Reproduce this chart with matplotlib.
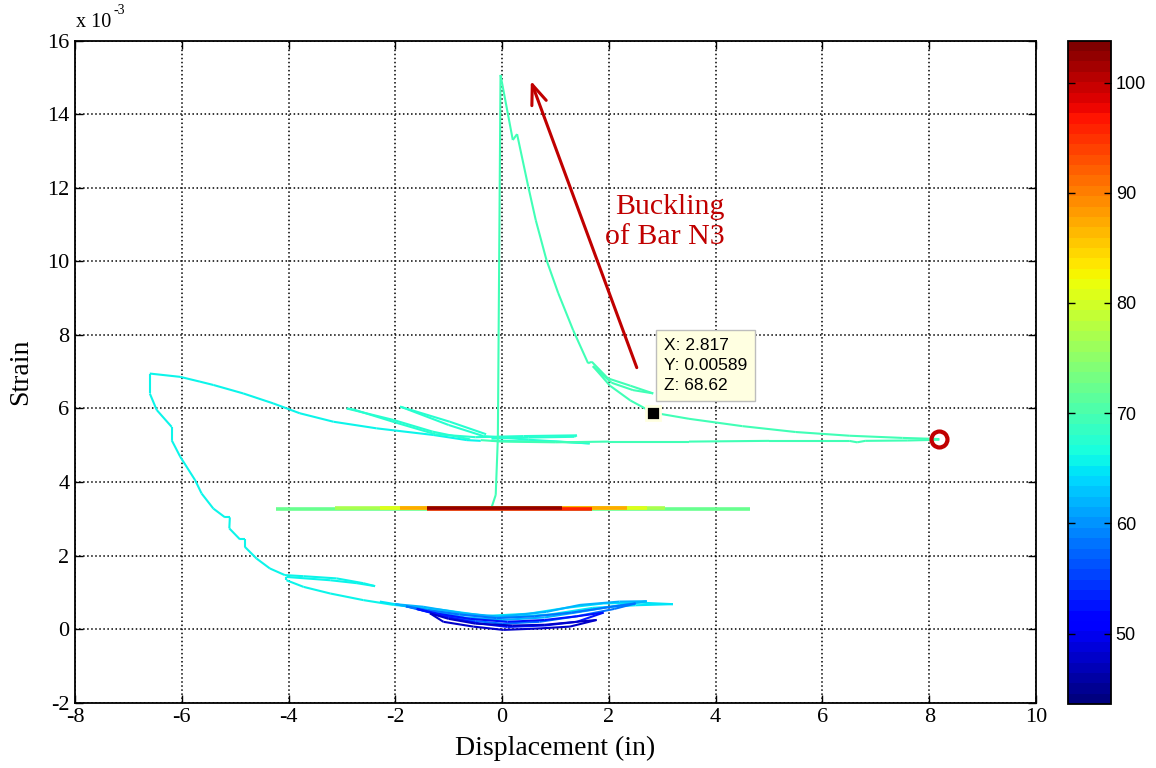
import numpy as np
import matplotlib
matplotlib.use('Agg')
import matplotlib.pyplot as plt
from matplotlib.collections import LineCollection
from matplotlib.colors import Normalize

plt.rcParams['axes.unicode_minus'] = False

# strain values are in units of 1e-3
# main trace: vertical jump, buckling drop, run out to the circle
peak_x = [-0.20, -0.12, -0.08, -0.03, 0.20, 0.28, 0.49, 0.63, 0.83, 1.05, 1.33, 1.61, 1.68,
          1.98, 2.40, 2.83, 2.45, 2.05, 1.70, 2.02, 2.40, 2.82, 3.50, 4.50, 5.50, 6.50, 7.50, 8.19]
peak_y = [3.30, 3.65, 5.20, 15.07, 13.30, 13.46, 12.03, 11.12, 10.04, 9.14, 8.13, 7.23, 7.27,
          6.82, 6.62, 6.41, 6.50, 6.70, 7.15, 6.62, 6.22, 5.89, 5.72, 5.52, 5.36, 5.26, 5.20, 5.17]
peak_z = 69.5

ret_x = [8.19, 7.60, 6.80, 6.65, 6.50, 5.00, 3.50, 2.00, 1.00, 0.00, -0.40]
ret_y = [5.15, 5.13, 5.12, 5.08, 5.12, 5.12, 5.10, 5.10, 5.08, 5.10, 5.14]
ret_z = 69.0

# big loop on the left going down into the bowl
left_x = [-0.40, -0.66, -1.29, -2.35, -3.16, -3.79, -4.29, -4.85, -5.41, -5.66, -6.03, -6.60,
          -6.60, -6.47, -6.19, -6.19, -6.03, -5.75, -5.63, -5.41, -5.19, -5.10, -5.11, -4.91,
          -4.82, -4.82, -4.60, -4.35, -4.07, -3.72, -3.10, -2.60, -2.38, -2.72, -3.22, -4.04,
          -4.04, -3.72, -3.22, -2.60, -2.04, -1.66]
left_y = [5.12, 5.14, 5.28, 5.46, 5.64, 5.87, 6.14, 6.41, 6.64, 6.73, 6.86, 6.95,
          6.41, 5.96, 5.50, 5.14, 4.69, 4.05, 3.69, 3.28, 3.04, 3.04, 2.74, 2.44,
          2.44, 2.24, 1.92, 1.65, 1.47, 1.44, 1.38, 1.25, 1.17, 1.25, 1.33, 1.42,
          1.33, 1.15, 0.97, 0.79, 0.66, 0.61]
left_z = 66.0

mid1_x = [-0.60, -1.30, -2.04, -2.91, -2.80, -2.00, -1.25, -0.50, 0.40, 1.40, 1.35, 0.50, -0.20]
mid1_y = [5.16, 5.37, 5.69, 6.00, 5.98, 5.62, 5.30, 5.22, 5.25, 5.27, 5.23, 5.21, 5.18]
mid1_z = 67.5

mid2_x = [-0.30, -0.98, -1.91, -1.85, -1.00, -0.35, 0.50, 1.64, 1.00, -0.20]
mid2_y = [5.30, 5.64, 6.05, 6.02, 5.55, 5.25, 5.15, 5.05, 5.10, 5.12]
mid2_z = 68.0

# small cycles near zero displacement
bowl1_x = [-1.35, -1.10, -0.54, 0.02, 0.71, 1.27, 1.77, 1.40, 0.80, 0.20, -0.50, -1.00, -1.35]
bowl1_y = [0.43, 0.20, 0.07, -0.02, 0.02, 0.07, 0.25, 0.20, 0.12, 0.10, 0.15, 0.28, 0.43]
bowl1_z = 48.0

bowl2_x = [-1.60, -1.00, -0.40, 0.10, 0.80, 1.40, 1.90, 1.40, 0.80, 0.10, -0.60, -1.20, -1.60]
bowl2_y = [0.55, 0.32, 0.15, 0.06, 0.10, 0.20, 0.45, 0.35, 0.25, 0.20, 0.28, 0.42, 0.55]
bowl2_z = 53.0

bowl3_x = [-1.80, -1.20, -0.50, 0.00, 0.70, 1.40, 2.10, 2.50, 2.00, 1.30, 0.60, -0.10, -0.80, -1.40, -1.80]
bowl3_y = [0.62, 0.40, 0.22, 0.15, 0.20, 0.35, 0.55, 0.70, 0.60, 0.45, 0.35, 0.30, 0.40, 0.52, 0.62]
bowl3_z = 58.0

bowl4_x = [-2.00, -1.40, -0.70, 0.00, 0.80, 1.50, 2.20, 2.71, 2.20, 1.46, 0.83, -0.04, -0.73, -1.48, -2.00]
bowl4_y = [0.68, 0.50, 0.32, 0.25, 0.32, 0.48, 0.65, 0.76, 0.75, 0.66, 0.47, 0.34, 0.43, 0.61, 0.68]
bowl4_z = 62.0

bowl5_x = [-2.29, -1.60, -0.80, 0.00, 0.90, 1.70, 2.50, 3.20, 2.60, 1.90, 1.20, 0.50, -0.30, -1.10, -1.66]
bowl5_y = [0.75, 0.58, 0.40, 0.32, 0.40, 0.58, 0.65, 0.68, 0.72, 0.70, 0.58, 0.42, 0.36, 0.52, 0.61]
bowl5_z = 65.0

# hot horizontal band around 3.3e-3
heat_x = [[-4.24, 4.64], [-3.13, 3.05], [-2.29, 2.71], [-1.91, 2.34], [-1.41, 1.68], [-1.41, 1.12]]
heat_y = [[3.28, 3.28], [3.29, 3.29], [3.30, 3.30], [3.29, 3.29], [3.27, 3.27], [3.30, 3.30]]
heat_z = [72.0, 77.0, 81.0, 87.5, 96.0, 102.5]

xticks = [-8, -6, -4, -2, 0, 2, 4, 6, 8, 10]
yticks = [-2, 0, 2, 4, 6, 8, 10, 12, 14, 16]
cticks = [50, 60, 70, 80, 90, 100]
zmin, zmax = 43.6, 103.8

tip_x, tip_y, tip_z = 2.817, 5.89, 68.62
end_x, end_y = 8.19, 5.16

traces = [(left_x, left_y, left_z), (mid1_x, mid1_y, mid1_z), (mid2_x, mid2_y, mid2_z),
          (bowl5_x, bowl5_y, bowl5_z), (bowl4_x, bowl4_y, bowl4_z), (bowl3_x, bowl3_y, bowl3_z),
          (bowl2_x, bowl2_y, bowl2_z), (bowl1_x, bowl1_y, bowl1_z),
          (ret_x, ret_y, ret_z), (peak_x, peak_y, peak_z)]


def to_segments(trace_list):
    segs, vals = [], []
    for tx, ty, tz in trace_list:
        pts = np.column_stack([tx, ty])
        for i in range(len(pts) - 1):
            segs.append(pts[i:i + 2])
            vals.append(tz)
    return segs, np.array(vals)


cmap = plt.get_cmap('jet', 64)
norm = Normalize(zmin, zmax)

fig = plt.figure(figsize=(11.56, 7.68), dpi=100)
ax = fig.add_axes([0.0649, 0.0850, 0.8313, 0.862])
cax = fig.add_axes([0.9241, 0.0833, 0.0369, 0.8637])

segs, vals = to_segments(traces)
lc = LineCollection(segs, cmap=cmap, norm=norm, linewidths=1.5, zorder=3)
lc.set_array(vals)
ax.add_collection(lc)

hsegs, hvals = to_segments(list(zip(heat_x, heat_y, heat_z)))
hlc = LineCollection(hsegs, cmap=cmap, norm=norm, linewidths=2.6, zorder=3)
hlc.set_array(hvals)
ax.add_collection(hlc)

ax.set_xlim(-8, 10)
ax.set_ylim(-2, 16)
ax.set_xticks(xticks)
ax.set_yticks(yticks)
ax.set_xticklabels([str(v) for v in xticks], family='Liberation Serif', fontsize=16)
ax.set_yticklabels([str(v) for v in yticks], family='Liberation Serif', fontsize=16)
ax.tick_params(direction='in', length=6, width=1, top=True, right=True, pad=4)
ax.grid(True, color='black', linestyle=':', linewidth=1.1)
ax.set_axisbelow(True)
for s in ax.spines.values():
    s.set_linewidth(1.3)

ax.set_xlabel('Displacement (in)', family='Liberation Serif', fontsize=20, labelpad=6)
ax.set_ylabel('Strain', family='Liberation Serif', fontsize=20, labelpad=10)

fig.text(0.0657, 0.958, 'x 10', family='Liberation Serif', fontsize=14.5, ha='left', va='bottom')
fig.text(0.0985, 0.978, '-3', family='Liberation Serif', fontsize=10, ha='left', va='bottom')

# red arrow and label
ax.annotate('', xy=(0.52, 14.98), xytext=(2.54, 7.04),
            arrowprops=dict(arrowstyle='->,head_length=1.4,head_width=0.55',
                            color='#c00000', lw=2.2), zorder=5)
ax.text(4.17, 11.07, 'Buckling\nof Bar N3', color='#c00000', family='Liberation Serif',
        fontsize=21.5, ha='right', va='center', multialignment='right', linespacing=1.2)

# end marker
ax.plot([end_x], [end_y], 'o', ms=11.5, mfc='none', mec='#c00000', mew=3, zorder=6)

# data tip
ax.plot([tip_x], [tip_y], 's', ms=10, mfc='black', mec='#ffffe1', mew=2, zorder=7)
ax.text(3.03, 7.17, 'X: %.3f\nY: %.5f\nZ: %.2f' % (tip_x, tip_y / 1000, tip_z),
        family='Liberation Sans', fontsize=12.5, ha='left', va='center', linespacing=1.4,
        zorder=8,
        bbox=dict(boxstyle='square,pad=0.45', fc='#ffffe1', ec='#bdbdbd', lw=1))

cb = fig.colorbar(lc, cax=cax)
cb.set_ticks(cticks)
cb.ax.tick_params(direction='in', length=5, width=1, left=True, right=True, labelsize=13)
for lab in cb.ax.get_yticklabels():
    lab.set_family('Liberation Sans')
cb.outline.set_linewidth(1.3)

fig.savefig('out.png', dpi=100)
